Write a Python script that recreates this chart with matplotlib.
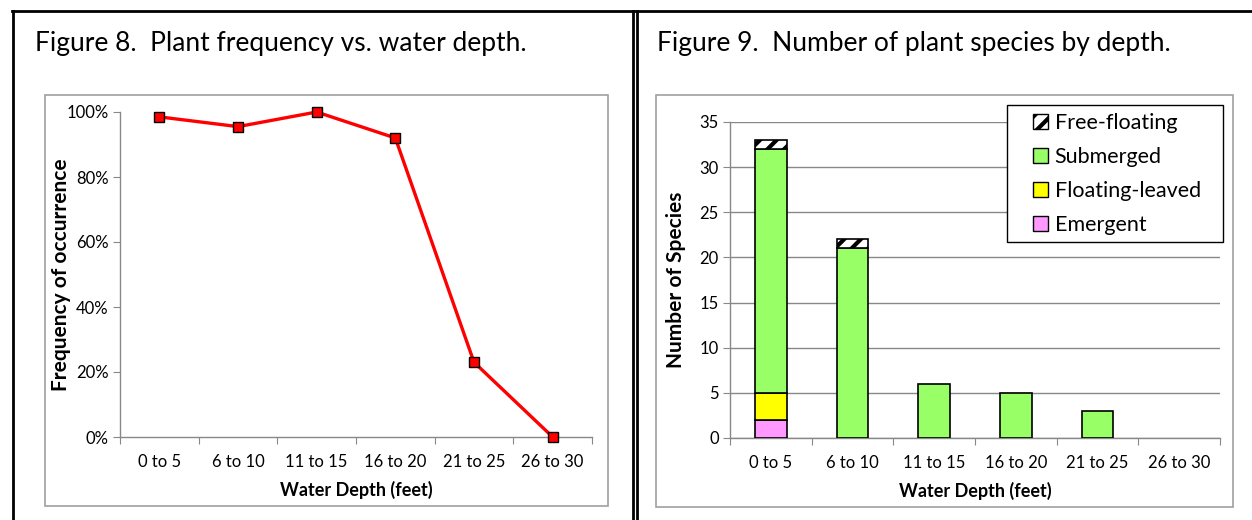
#!/usr/bin/env python3
"""Two-panel figure: plant frequency and species count by water depth."""

import matplotlib

matplotlib.use("Agg")
import matplotlib.pyplot as plt
from matplotlib.lines import Line2D
from matplotlib.patches import Patch, Rectangle
from matplotlib.ticker import FuncFormatter, MultipleLocator

W, H = 1252, 520

depths = ["0 to 5", "6 to 10", "11 to 15", "16 to 20", "21 to 25", "26 to 30"]
frequency = [0.985, 0.955, 1.00, 0.92, 0.23, 0.0]

emergent = [2, 0, 0, 0, 0, 0]
floating_leaved = [3, 0, 0, 0, 0, 0]
submerged = [27, 21, 6, 5, 3, 0]
free_floating = [1, 1, 0, 0, 0, 0]

plt.rcParams["font.family"] = ["Lato", "DejaVu Sans"]
plt.rcParams["hatch.linewidth"] = 3
plt.rcParams["hatch.color"] = "black"

GRAY = "#888888"


def fx(px):
    return px / W


def fy(py):
    return 1 - py / H


def axes_rect(left, top, right, bottom):
    return [fx(left), fy(bottom), fx(right) - fx(left), fy(top) - fy(bottom)]


fig = plt.figure(figsize=(W / 100, H / 100), dpi=100)

# outer black frame lines
for xs, ys in [
    ((12, W), (11, 11)),
    ((13, 13), (11, H)),
    ((633, 633), (11, H)),
    ((637, 637), (11, H)),
]:
    fig.add_artist(Line2D([fx(x) for x in xs], [fy(y) for y in ys], color="black", lw=2))

# gray chart boxes
for left, top, right, bottom in [(45, 95, 608, 506), (656, 95, 1233, 507)]:
    fig.add_artist(Rectangle((fx(left), fy(bottom)), fx(right) - fx(left), fy(top) - fy(bottom),
                             facecolor="none", edgecolor="#a0a0a0", lw=1.2))

fig.text(fx(35), fy(43), "Figure 8.  Plant frequency vs. water depth.", fontsize=19, va="center")
fig.text(fx(657), fy(43), "Figure 9.  Number of plant species by depth.", fontsize=19, va="center")

x = list(range(len(depths)))

# --- left: frequency line
ax1 = fig.add_axes(axes_rect(120, 112, 592, 437))
ax1.plot(x, frequency, color="#ff0000", lw=2.4, marker="s", markersize=7,
         markerfacecolor="#ff0000", markeredgecolor="black", markeredgewidth=1, clip_on=False, zorder=3)
ax1.set_xlim(-0.5, len(depths) - 0.5)
ax1.set_ylim(0, 1)
ax1.yaxis.set_major_locator(MultipleLocator(0.2))
ax1.yaxis.set_major_formatter(FuncFormatter(lambda v, _: f"{v:.0%}"))
ax1.set_ylabel("Frequency of occurrence", fontsize=15, fontweight="bold")
ax1.yaxis.set_label_coords((71 - 120) / 472, 0.5)
ax1.set_xlabel("Water Depth (feet)", fontsize=13, fontweight="bold", labelpad=8)

# --- right: stacked species bars
ax2 = fig.add_axes(axes_rect(730, 122, 1220, 438))
bw = 0.39
bottom = [0] * len(depths)
series = [
    ("Emergent", emergent, "#ff99ff", None),
    ("Floating-leaved", floating_leaved, "#ffff00", None),
    ("Submerged", submerged, "#99ff66", None),
    ("Free-floating", free_floating, "white", "//"),
]
handles = []
for name, vals, color, hatch in series:
    idx = [i for i in x if vals[i] > 0]
    ax2.bar(idx, [vals[i] for i in idx], bw, bottom=[bottom[i] for i in idx], color=color,
            edgecolor="black", lw=1.2, hatch=hatch, zorder=3)
    bottom = [b + v for b, v in zip(bottom, vals)]
    handles.append(Patch(facecolor=color, edgecolor="black", hatch=hatch, label=name))
ax2.set_xlim(-0.5, len(depths) - 0.5)
ax2.set_ylim(0, 35)
ax2.yaxis.set_major_locator(MultipleLocator(5))
ax2.grid(axis="y", color=GRAY, lw=1, zorder=0)
ax2.set_ylabel("Number of Species", fontsize=15, fontweight="bold")
ax2.yaxis.set_label_coords((686 - 730) / 490, 0.5)
ax2.set_xlabel("Water Depth (feet)", fontsize=13, fontweight="bold", labelpad=8)

# legend: white box drawn separately so the left padding matches
fig.add_artist(Rectangle((fx(1007), fy(242)), fx(1223) - fx(1007), fy(105) - fy(242),
                         facecolor="white", edgecolor="black", lw=1, zorder=5))
leg = fig.legend(handles=handles[::-1], loc="upper left", bbox_to_anchor=(fx(1033), fy(113)),
                 fontsize=15.5, frameon=False, handlelength=0.7, handleheight=0.7,
                 handletextpad=0.3, borderpad=0, labelspacing=0.65, borderaxespad=0)
leg.set_zorder(6)

for ax in (ax1, ax2):
    ax.set_xticks([i - 0.5 for i in range(len(depths) + 1)], minor=False)
    ax.set_xticklabels([])
    ax.set_xticks(x, minor=True)
    ax.set_xticklabels(depths, minor=True, fontsize=12)
    ax.tick_params(axis="x", which="minor", length=0, pad=12)
    ax.tick_params(axis="x", which="major", length=5, color=GRAY, direction="out")
    ax.tick_params(axis="y", length=5, color=GRAY, labelsize=12, pad=3)
    for side in ("top", "right"):
        ax.spines[side].set_visible(False)
    for side in ("left", "bottom"):
        ax.spines[side].set_color(GRAY)
        ax.spines[side].set_linewidth(1)
    ax.set_facecolor("none")

fig.savefig("out.png", dpi=100)
